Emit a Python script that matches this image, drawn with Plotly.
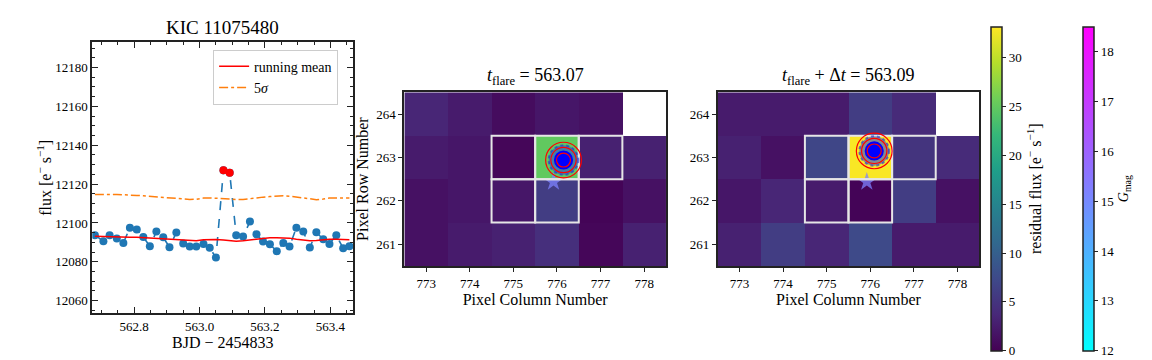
import plotly.graph_objects as go

# light curve
time = [562.680, 562.706, 562.725, 562.747, 562.767, 562.787, 562.808, 562.828, 562.848, 562.868,
        562.889, 562.908, 562.929, 562.950, 562.970, 562.990, 563.012, 563.031, 563.050, 563.073,
        563.092, 563.112, 563.133, 563.154, 563.174, 563.194, 563.215, 563.236, 563.256, 563.275,
        563.296, 563.317, 563.337, 563.357, 563.378, 563.397, 563.418, 563.439, 563.458]
flux = [12093.7, 12090.6, 12093.7, 12092.0, 12089.7, 12097.6, 12096.6, 12092.8, 12088.0, 12095.6,
        12092.6, 12087.5, 12095.1, 12089.4, 12087.9, 12087.9, 12089.2, 12087.2, 12082.2, 12127.1,
        12125.9, 12093.7, 12093.0, 12100.7, 12094.2, 12090.4, 12089.0, 12085.5, 12089.7, 12087.9,
        12097.6, 12095.6, 12087.4, 12095.2, 12091.6, 12089.2, 12093.7, 12087.0, 12088.0]
running_mean = [12093.2, 12093.0, 12093.0, 12092.8, 12092.6, 12092.6, 12092.6, 12092.4, 12092.0, 12091.8,
                12091.6, 12091.4, 12091.2, 12091.0, 12090.8, 12090.8, 12091.4, 12091.5, 12091.5, 12091.2,
                12090.8, 12090.6, 12090.8, 12091.3, 12091.8, 12092.2, 12092.4, 12092.4, 12092.4, 12092.2,
                12091.6, 12091.0, 12090.8, 12091.0, 12091.4, 12091.6, 12091.6, 12091.4, 12091.4]
five_sigma = [12114.6, 12114.7, 12114.8, 12114.7, 12114.5, 12114.2, 12114.2, 12114.0, 12113.7, 12113.4,
              12113.0, 12112.8, 12112.6, 12112.3, 12112.1, 12112.2, 12112.8, 12112.9, 12112.8, 12112.7,
              12112.4, 12112.1, 12112.1, 12112.5, 12113.0, 12113.3, 12113.6, 12113.9, 12114.0, 12113.8,
              12113.3, 12112.9, 12112.4, 12112.0, 12112.3, 12112.8, 12112.9, 12112.9, 12112.9]
flare_time = [563.073, 563.092]
flare_flux = [12127.1, 12125.9]

# pixel grids (rows 261..264, columns 773..778)
cols = [773, 774, 775, 776, 777, 778]
rows = [261, 262, 263, 264]
resid_flare = [
    [1.5, 2.5, 3.0, 4.5, 0.5, 3.0],
    [1.5, 2.0, 2.0, 6.0, 0.3, 1.5],
    [2.5, 2.0, 0.5, 25.0, 3.0, 3.0],
    [3.5, 2.5, 1.0, 2.0, 1.5, None],
]
resid_after = [
    [3.0, 6.0, 3.5, 7.5, 2.5, 2.5],
    [2.0, 3.5, 2.5, 0.3, 6.0, 1.5],
    [3.0, 1.5, 7.0, 33.0, 5.0, 4.0],
    [2.5, 2.5, 2.5, 6.0, 4.0, None],
]
aperture = [(775, 263), (776, 263), (777, 263), (775, 262), (776, 262)]

# Gaia source and centroids
star_col, star_row, star_gmag = 775.92, 262.44, 15.2
centroid_flare = (776.15, 262.94)
centroid_after = (776.09, 263.15)
ring_radii = [0.16, 0.29, 0.41]

font = "Liberation Serif"
fig = go.Figure()

# left panel
fig.add_trace(go.Scatter(x=time, y=flux, mode="lines+markers",
                         line=dict(color="#1f77b4", width=1.6, dash="dash"),
                         marker=dict(color="#1f77b4", size=8), showlegend=False,
                         xaxis="x", yaxis="y"))
fig.add_trace(go.Scatter(x=flare_time, y=flare_flux, mode="markers",
                         marker=dict(color="#ff0000", size=8), showlegend=False,
                         xaxis="x", yaxis="y"))
fig.add_trace(go.Scatter(x=time, y=running_mean, mode="lines", name="running mean",
                         line=dict(color="#ff0000", width=1.5), xaxis="x", yaxis="y"))
fig.add_trace(go.Scatter(x=time, y=five_sigma, mode="lines", name="5<i>σ</i>",
                         line=dict(color="#ff7f0e", width=1.5, dash="dashdot"), xaxis="x", yaxis="y"))

# heatmaps
for z, xa, ya in [(resid_flare, "x2", "y2"), (resid_after, "x3", "y3")]:
    fig.add_trace(go.Heatmap(x=cols, y=rows, z=z, coloraxis="coloraxis",
                             xaxis=xa, yaxis=ya, hoverongaps=False))
    fig.add_trace(go.Scatter(x=[star_col], y=[star_row], mode="markers",
                             marker=dict(symbol="star", size=14, color=[star_gmag],
                                         coloraxis="coloraxis2", opacity=0.75, line=dict(width=0)),
                             showlegend=False, xaxis=xa, yaxis=ya))

shapes = []
for xa, ya, (cx, cy) in [("x2", "y2", centroid_flare), ("x3", "y3", centroid_after)]:
    for c, r in aperture:
        shapes.append(dict(type="rect", xref=xa, yref=ya, x0=c - 0.5, x1=c + 0.5, y0=r - 0.5, y1=r + 0.5,
                           line=dict(color="#e6e6e6", width=2)))
    # centroid cloud and mean centroid
    shapes.append(dict(type="circle", xref=xa, yref=ya, x0=cx - 0.34, x1=cx + 0.34, y0=cy - 0.34, y1=cy + 0.34,
                       fillcolor="rgba(40,60,230,0.55)", line=dict(color="rgba(30,40,220,0.6)", width=2, dash="dot")))
    shapes.append(dict(type="circle", xref=xa, yref=ya, x0=cx - 0.22, x1=cx + 0.22, y0=cy - 0.22, y1=cy + 0.22,
                       fillcolor="#0000ff", line=dict(width=0)))
    for rr in ring_radii:
        shapes.append(dict(type="circle", xref=xa, yref=ya, x0=cx - rr, x1=cx + rr, y0=cy - rr, y1=cy + rr,
                           line=dict(color="#ff0000", width=1.2)))

frame = dict(showline=True, mirror=True, linecolor="#222", linewidth=1.8, showgrid=False, zeroline=False)
tickf = dict(family=font, size=13, color="black")
labf = dict(family=font, size=16, color="black")

fig.update_layout(
    width=1152, height=360, margin=dict(l=0, r=0, t=0, b=0),
    paper_bgcolor="white", plot_bgcolor="white",
    font=dict(family=font, color="black"),
    shapes=shapes,
    xaxis=dict(domain=[0.0801, 0.3067], range=[562.672, 563.47], tickvals=[562.8, 563.0, 563.2, 563.4],
               ticktext=["562.8", "563.0", "563.2", "563.4"],
               ticks="inside", ticklen=6, tickwidth=1.2, tickcolor="#222",
               minor=dict(dtick=0.05, ticks="inside", ticklen=3, tickcolor="#222", tickwidth=1),
               tickfont=tickf, title=dict(text="BJD − 2454833", font=labf, standoff=4),
               anchor="y", **{**frame, "mirror": "allticks"}),
    yaxis=dict(domain=[0.1297, 0.8825], range=[12053.5, 12193], dtick=20, tickformat="d",
               ticks="inside", ticklen=6, tickwidth=1.2, tickcolor="#222",
               minor=dict(dtick=5, ticks="inside", ticklen=3, tickcolor="#222", tickwidth=1),
               tickfont=tickf, title=dict(text="flux [e<sup>−</sup> s<sup>−1</sup>]", font=labf, standoff=0),
               anchor="x", **{**frame, "mirror": "allticks"}),
    xaxis2=dict(domain=[0.3510, 0.5781], range=[772.5, 778.5], dtick=1, ticks="outside", ticklen=4,
                tickcolor="#222", tickfont=tickf, anchor="y2",
                title=dict(text="Pixel Column Number", font=labf, standoff=4), **frame),
    yaxis2=dict(domain=[0.2611, 0.7436], range=[260.5, 264.5], dtick=1, ticks="outside", ticklen=4,
                tickcolor="#222", tickfont=tickf, anchor="x2",
                title=dict(text="Pixel Row Number", font=labf, standoff=4), **frame),
    xaxis3=dict(domain=[0.6230, 0.8501], range=[772.5, 778.5], dtick=1, ticks="outside", ticklen=4,
                tickcolor="#222", tickfont=tickf, anchor="y3",
                title=dict(text="Pixel Column Number", font=labf, standoff=4), **frame),
    yaxis3=dict(domain=[0.2611, 0.7436], range=[260.5, 264.5], dtick=1, ticks="outside", ticklen=4,
                tickcolor="#222", tickfont=tickf, anchor="x3", **frame),
    coloraxis=dict(colorscale="Viridis", cmin=0, cmax=33.2,
                   colorbar=dict(x=991 / 1152, xanchor="left", xpad=0, ypad=0, y=1 - 26.7 / 360, yanchor="top",
                                 len=324.3 / 360, lenmode="fraction", thickness=11,
                                 outlinewidth=1.5, outlinecolor="#222",
                                 tickvals=[0, 5, 10, 15, 20, 25, 30], ticks="outside", ticklen=4,
                                 tickcolor="#222", tickfont=tickf,
                                 title=dict(text="residual flux [e<sup>−</sup> s<sup>−1</sup>]",
                                            side="right", font=labf))),
    coloraxis2=dict(colorscale=[[0, "#00ffff"], [1, "#ff00ff"]], cmin=12, cmax=18.5,
                    colorbar=dict(x=1082.7 / 1152, xanchor="left", xpad=0, ypad=0, y=1 - 26.7 / 360, yanchor="top",
                                  len=324.3 / 360, lenmode="fraction", thickness=11,
                                  outlinewidth=1.5, outlinecolor="#222",
                                  tickvals=[12, 13, 14, 15, 16, 17, 18], ticks="outside", ticklen=4,
                                  tickcolor="#222", tickfont=tickf,
                                  title=dict(text="<i>G</i><sub>mag</sub>", side="right",
                                             font=dict(family=font, size=14, color="black")))),
    legend=dict(x=0.185, y=0.862, xanchor="left", yanchor="top", bgcolor="white",
                bordercolor="#cccccc", borderwidth=1, font=dict(family=font, size=14, color="black"),
                tracegroupgap=0),
    annotations=[
        dict(text="KIC 11075480", x=0.1934, y=0.8825, xref="paper", yref="paper", xanchor="center",
             yanchor="bottom", yshift=2, showarrow=False, font=dict(family=font, size=19)),
        dict(text="<i>t</i><sub>flare</sub> = 563.07", x=0.4646, y=0.7436, xref="paper", yref="paper",
             xanchor="center", yanchor="bottom", yshift=2, showarrow=False, font=dict(family=font, size=18)),
        dict(text="<i>t</i><sub>flare</sub> + Δ<i>t</i> = 563.09", x=0.7366, y=0.7436, xref="paper",
             yref="paper", xanchor="center", yanchor="bottom", yshift=2, showarrow=False,
             font=dict(family=font, size=18)),
    ],
)

# the page body has a default 8px margin; drop it so the figure sits at the window corner
fig.write_html("out.html", config={"displayModeBar": False},
               post_script="document.body.style.margin='0';")
